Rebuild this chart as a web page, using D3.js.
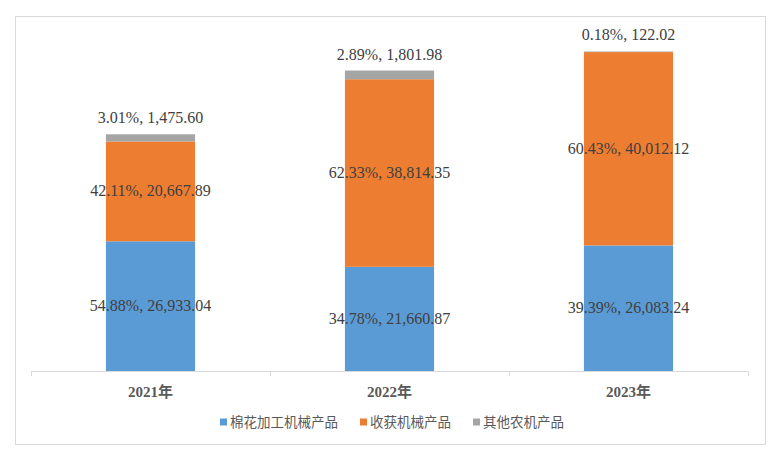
<!DOCTYPE html>
<html><head><meta charset="utf-8">
<script src="https://cdn.jsdelivr.net/npm/d3@7/dist/d3.min.js"></script>
<style>body{margin:0;background:#fff}svg{display:block}</style>
</head><body>
<svg id="c" width="773" height="456"></svg>
<script>
const categories = ["2021年", "2022年", "2023年"];
const seriesNames = ["棉花加工机械产品", "收获机械产品", "其他农机产品"];
const cotton = [26933.04, 21660.87, 26083.24];
const harvest = [20667.89, 38814.35, 40012.12];
const other = [1475.60, 1801.98, 122.02];
const cottonPct = ["54.88%", "34.78%", "39.39%"];
const harvestPct = ["42.11%", "62.33%", "60.43%"];
const otherPct = ["3.01%", "2.89%", "0.18%"];
const colors = ["#5B9BD5", "#ED7D31", "#A5A5A5"];

const svg = d3.select("#c");
svg.append("rect").attr("x", 15.5).attr("y", 16.5).attr("width", 750).attr("height", 428)
  .attr("fill", "#fff").attr("stroke", "#d9d9d9");

const x = d3.scaleBand().domain(categories).range([31, 748]).paddingInner(0.627).paddingOuter(0.3135);
const y = d3.scaleLinear().domain([0, 70000]).range([371.5, 33.2]);

const rows = categories.map((c, i) => ({cat: c, s0: cotton[i], s1: harvest[i], s2: other[i], i}));
const stack = d3.stack().keys(["s0", "s1", "s2"])(rows);
const pcts = [cottonPct, harvestPct, otherPct];
const vals = [cotton, harvest, other];
const fmt = d3.format(",.2f");

stack.forEach((layer, k) => {
  svg.append("g").selectAll("rect").data(layer).join("rect")
    .attr("x", d => x(d.data.cat))
    .attr("width", x.bandwidth())
    .attr("y", d => y(d[1]))
    .attr("height", d => y(d[0]) - y(d[1]))
    .attr("fill", colors[k]);
});

// axis
const axisG = svg.append("g");
axisG.append("line").attr("x1", 31).attr("x2", 748).attr("y1", 371.5).attr("y2", 371.5)
  .attr("stroke", "#d9d9d9");
const step = x.step();
const ticks = [0, 1, 2, 3].map(i => 31 + i * (717 / 3));
axisG.selectAll("line.t").data(ticks).join("line").attr("class", "t")
  .attr("x1", d => Math.round(d) + 0.5).attr("x2", d => Math.round(d) + 0.5)
  .attr("y1", 371.5).attr("y2", 376).attr("stroke", "#d9d9d9");
axisG.selectAll("text").data(categories).join("text")
  .attr("x", d => x(d) + x.bandwidth() / 2).attr("y", 397)
  .attr("text-anchor", "middle")
  .attr("font-family", "'Liberation Serif','Noto Sans CJK SC',serif")
  .attr("font-weight", "bold").attr("font-size", 15).attr("fill", "#595959")
  .text(d => d);

// labels
const labelFont = "'Liberation Serif','Times New Roman',serif";
stack.forEach((layer, k) => {
  svg.append("g").selectAll("text").data(layer).join("text")
    .attr("x", d => x(d.data.cat) + x.bandwidth() / 2)
    .attr("y", d => k === 2 ? y(d[1]) - 11 : (y(d[0]) + y(d[1])) / 2 + 5)
    .attr("text-anchor", "middle")
    .attr("font-family", labelFont).attr("font-size", 16).attr("fill", "#404040")
    .text(d => pcts[k][d.data.i] + ", " + fmt(vals[k][d.data.i]));
});

// legend
const lg = svg.append("g");
const items = lg.selectAll("g").data(seriesNames).join("g");
items.append("rect").attr("width", 7).attr("height", 7).attr("y", -3.5).attr("fill", (d, i) => colors[i]);
items.append("text").attr("x", 10).attr("y", 5)
  .attr("font-family", "'Noto Sans CJK SC',sans-serif").attr("font-size", 13.5).attr("fill", "#595959")
  .text(d => d);
let cx = 0;
const widths = [];
items.each(function() { widths.push(this.getBBox().width); });
const gap = 22;
const total = widths.reduce((a, b) => a + b, 0) + gap * (widths.length - 1);
cx = 392 - total / 2;
items.attr("transform", (d, i) => {
  const t = `translate(${cx},422)`;
  cx += widths[i] + gap;
  return t;
});
</script>
</body></html>
